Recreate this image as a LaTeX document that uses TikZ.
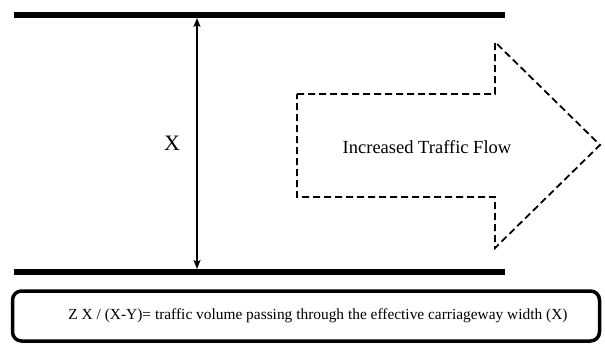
\documentclass[tikz,border=0pt]{standalone}
\usepackage{fontspec}
\setmainfont{Liberation Serif}
\usetikzlibrary{arrows.meta,positioning}

\begin{document}
\begin{tikzpicture}[x=1pt,y=-1pt,
  road/.style={line width=6pt},
  flow/.style={dashed, line width=1.8pt, dash pattern=on 7pt off 4pt},
  infobox/.style={draw, line width=3.5pt, rounded corners=9pt, minimum width=587pt, minimum height=50pt, inner sep=0pt}]
\useasboundingbox (0,0) rectangle (605,354);
% road edges
\draw[road] (14,15) -- (505,15);
\draw[road] (14,272) -- (505,272);
% width X between the edges
\coordinate (wtop) at (197,18);
\coordinate (wbot) at (197,269);
\draw[{Stealth[length=9pt,width=7pt,inset=2pt]}-{Stealth[length=9pt,width=7pt,inset=2pt]}, line width=1.3pt] (wtop) -- (wbot);
\node (xlab) at (172,143) {\fontsize{22}{26}\selectfont X};
% dashed flow arrow
\draw[flow] (297,94) -- (495,94) -- (495,42) -- (600,145) -- (495,248) -- (495,197) -- (297,197) -- cycle;
\node (flowlab) at (427,147) {\fontsize{18.5}{22}\selectfont Increased Traffic Flow};
% formula box
\node[infobox] (note) at (306,316) {};
\node (formula) at (318,316) {\fontsize{15.4}{19}\selectfont Z X / (X-Y)= traffic volume passing through the effective carriageway width (X)};
\end{tikzpicture}
\end{document}
